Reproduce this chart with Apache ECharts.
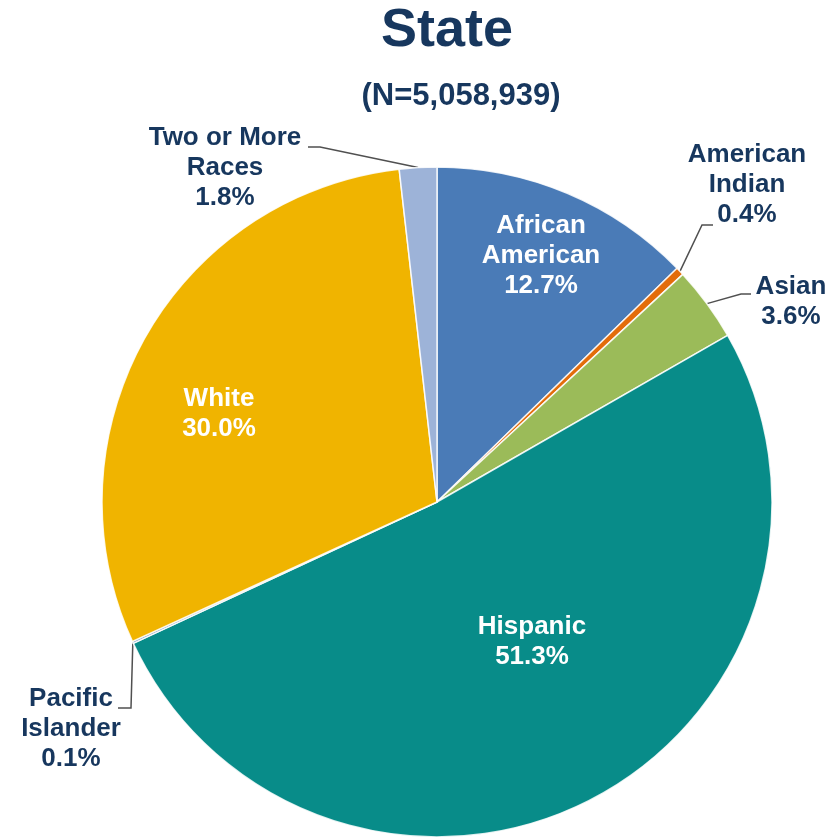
<!DOCTYPE html>
<html>
<head>
<meta charset="utf-8">
<script src="https://cdn.jsdelivr.net/npm/echarts@6/dist/echarts.min.js"></script>
<style>
html,body{margin:0;padding:0;background:#fff;}
#chart{width:831px;height:840px;}
</style>
</head>
<body>
<div id="chart"></div>
<script>
// ---- data ----
const categories = ['African American', 'American Indian', 'Asian', 'Hispanic', 'Pacific Islander', 'White', 'Two or More Races'];
const labelTexts = ['African\nAmerican', 'American\nIndian', 'Asian', 'Hispanic', 'Pacific\nIslander', 'White', 'Two or More\nRaces'];
const percents = [12.7, 0.4, 3.6, 51.3, 0.1, 30.0, 1.8];
const insideLabel = [true, false, false, true, false, true, false];
const colors = ['#4A7BB7', '#E36C0A', '#9BBB59', '#088C89', '#8EA9C8', '#F0B400', '#9DB3D8'];
const titleText = 'State';
const subtitleText = '(N=5,058,939)';

// ---- layout (positions only) ----
const FONT = "'Liberation Sans', Arial, sans-serif";
const NAVY = '#17375E';
const CX = 437, CY = 502, R = 335;
// label anchor positions and leader-line bends (relative to label anchor)
const labelPos = [
  {x: 541, y: 256},
  {x: 747, y: 185, line: [[-45, 40], [-34, 40]]},
  {x: 791, y: 302, line: [[-50, -8], [-40, -8]]},
  {x: 532, y: 642},
  {x: 71, y: 729, line: [[60, -21], [47, -21]]},
  {x: 219, y: 414},
  {x: 225, y: 168, line: [[95, -21], [83, -21]]}
];

const chart = echarts.init(document.getElementById('chart'), null, {renderer: 'canvas'});

const data = categories.map((name, i) => ({
  name: name,
  value: percents[i],
  itemStyle: {color: colors[i]},
  label: {
    position: insideLabel[i] ? 'inside' : 'outside',
    color: insideLabel[i] ? '#ffffff' : NAVY
  },
  labelLine: {show: !insideLabel[i]}
}));

chart.setOption({
  animation: false,
  backgroundColor: '#ffffff',
  graphic: [
    {type: 'text', x: 447, y: 31, style: {text: titleText, font: 'bold 54px ' + FONT, fill: NAVY, textAlign: 'center', textVerticalAlign: 'middle'}},
    {type: 'text', x: 461, y: 96, style: {text: subtitleText, font: 'bold 31px ' + FONT, fill: NAVY, textAlign: 'center', textVerticalAlign: 'middle'}}
  ],
  series: [{
    type: 'pie',
    center: [CX, CY],
    radius: R,
    startAngle: 90,
    clockwise: true,
    avoidLabelOverlap: false,
    data: data,
    itemStyle: {borderColor: 'rgba(255,255,255,0.85)', borderWidth: 1.5},
    label: {
      show: true,
      fontFamily: FONT,
      fontWeight: 'bold',
      fontSize: 26,
      lineHeight: 30,
      align: 'center',
      formatter: p => labelTexts[p.dataIndex] + '\n' + p.value.toFixed(1) + '%'
    },
    labelLine: {
      show: true,
      length: 20,
      length2: 10,
      lineStyle: {color: '#505050', width: 1.5}
    },
    labelLayout: function (params) {
      const p = labelPos[params.dataIndex];
      const out = {x: p.x, y: p.y, align: 'center', verticalAlign: 'middle'};
      if (p.line && params.labelLinePoints) {
        const start = params.labelLinePoints[0];
        out.labelLinePoints = [start].concat(p.line.map(d => [p.x + d[0], p.y + d[1]]));
      }
      return out;
    }
  }]
});
</script>
</body>
</html>
